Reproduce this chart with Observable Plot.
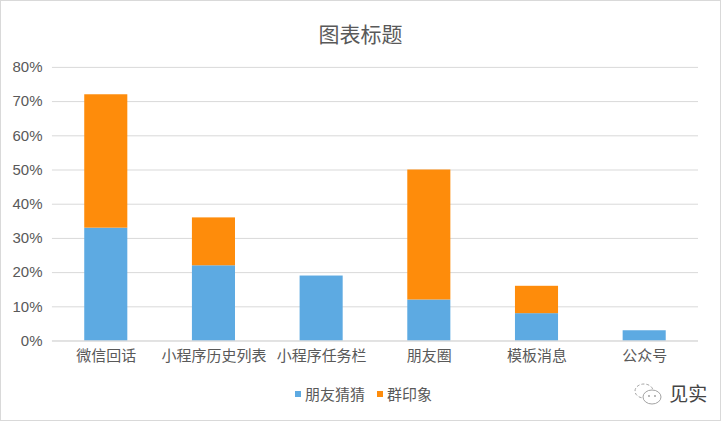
<!DOCTYPE html>
<html><head><meta charset="utf-8">
<script src="https://cdn.jsdelivr.net/npm/d3@7"></script>
<script src="https://cdn.jsdelivr.net/npm/@observablehq/plot@0.6"></script>
<style>
body{margin:0;background:#fff;}
#wrap{position:relative;width:719px;height:419px;border:1px solid #d9d9d9;background:#fff;overflow:hidden;font-family:"Noto Sans CJK SC",sans-serif;}
#title{position:absolute;left:0;width:719px;top:17px;text-align:center;font-size:21px;color:#595959;line-height:30px;}
#chart{position:absolute;left:-1px;top:-1px;}
.leg{position:absolute;top:383px;font-size:15px;color:#595959;line-height:20px;}
.sw{display:inline-block;width:6px;height:6px;margin-right:4px;vertical-align:middle;position:relative;top:-2px;}
#wm{position:absolute;left:632px;top:377px;font-size:19px;color:#444;line-height:30px;}
</style></head>
<body>
<div id="wrap">
  <div id="title">图表标题</div>
  <div id="chart"></div>
  <div id="legend"></div>
  <div id="wm"><svg width="32" height="26" viewBox="0 0 32 26" style="vertical-align:middle;position:relative;top:-2px"><ellipse cx="11" cy="10" rx="9" ry="7" fill="none" stroke="#999" stroke-width="0.9" stroke-dasharray="3 2"/><ellipse cx="19" cy="16" rx="9" ry="7" fill="#fff" stroke="#999" stroke-width="0.9"/><circle cx="16" cy="15" r="0.9" fill="#999"/><circle cx="22" cy="15" r="0.9" fill="#999"/></svg> 见实</div>
</div>
<script>
const categories = ["微信回话","小程序历史列表","小程序任务栏","朋友圈","模板消息","公众号"];
const seriesNames = ["朋友猜猜","群印象"];
const friendGuess = [0.33,0.22,0.19,0.12,0.08,0.03];
const groupImpression = [0.39,0.14,0.00,0.38,0.08,0.00];
const yTicks = [0,0.1,0.2,0.3,0.4,0.5,0.6,0.7,0.8];
const colors = ["#5DAAE2","#FE8C0B"];

const rows = [];
categories.forEach((c,i)=>{
  rows.push({cat:c, series:seriesNames[0], value:friendGuess[i]});
  rows.push({cat:c, series:seriesNames[1], value:groupImpression[i]});
});

const plot = Plot.plot({
  width: 721,
  height: 421,
  marginTop: 67,
  marginBottom: 80,
  marginLeft: 52,
  marginRight: 22,
  style: {fontFamily: '"Noto Sans CJK SC", sans-serif', background: "transparent"},
  x: {domain: categories, paddingInner: 0.6, paddingOuter: 0.3, round: false, label: null},
  y: {domain: [0, 0.8], label: null},
  color: {domain: seriesNames, range: colors},
  marks: [
    Plot.gridY(yTicks, {stroke: "#d9d9d9", strokeOpacity: 1, strokeWidth: 1}),
    Plot.axisY(yTicks, {tickSize: 0, tickPadding: 10, tickFormat: d3.format(".0%"), fontSize: 15, fontFamily: '"Liberation Sans", Arial, sans-serif', fill: "#595959", label: null}),
    Plot.axisX({tickSize: 0, tickPadding: 9, fontSize: 15, fill: "#595959", label: null}),
    Plot.barY(rows, {x: "cat", y: "value", fill: "series", order: seriesNames}),
    Plot.ruleY([0], {stroke: "#d9d9d9"})
  ]
});
document.getElementById("chart").appendChild(plot);

const legend = document.getElementById("legend");
const legX = [294, 376];
seriesNames.forEach((s,i)=>{
  const d = document.createElement("div");
  d.className = "leg";
  d.style.left = legX[i] + "px";
  d.innerHTML = `<span class="sw" style="background:${colors[i]}"></span>${s}`;
  legend.appendChild(d);
});
</script>
</body></html>
